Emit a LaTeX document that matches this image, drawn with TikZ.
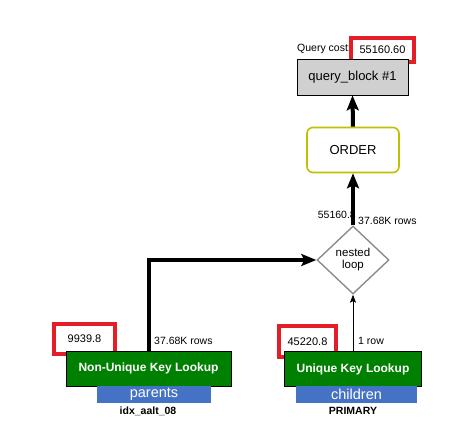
\documentclass[tikz,border=0pt]{standalone}
\usepackage{fontspec}
\setmainfont{Liberation Sans}
\definecolor{plangreen}{HTML}{008000}
\definecolor{planblue}{HTML}{4472C4}
\definecolor{costred}{HTML}{E41E26}
\definecolor{blockgray}{HTML}{D0D0D0}
\definecolor{orderolive}{HTML}{C0C000}
\definecolor{loopgray}{HTML}{8C8C8C}
\usetikzlibrary{arrows.meta,positioning,shapes.geometric}
\tikzset{
    costbox/.style={
        draw=costred,
        line width=3.5pt,
        inner sep=0pt,
        minimum height=26pt,
        font=\fontsize{11}{13}\selectfont
    },
    queryblock/.style={
        draw=black,
        fill=blockgray,
        line width=0.8pt,
        minimum width=111pt,
        minimum height=36pt,
        inner sep=0pt,
        font=\fontsize{13}{15}\selectfont
    },
    orderbox/.style={
        draw=orderolive,
        fill=white,
        rounded corners=6pt,
        line width=1.6pt,
        minimum width=92pt,
        minimum height=45pt,
        inner sep=0pt,
        font=\fontsize{13}{15}\selectfont
    },
    loopdiamond/.style={
        diamond,
        draw=loopgray,
        fill=white,
        line width=1.4pt,
        minimum width=72pt,
        minimum height=68pt,
        inner sep=0pt,
        align=center,
        font=\fontsize{11.5}{12}\selectfont
    },
    lookupbox/.style={
        draw=black,
        fill=plangreen,
        text=white,
        line width=0.8pt,
        minimum height=35pt,
        inner sep=0pt,
        font=\bfseries\fontsize{12}{14}\selectfont
    },
    tablebox/.style={
        fill=planblue,
        text=white,
        minimum height=17pt,
        inner sep=0pt,
        font=\fontsize{14.5}{16}\selectfont
    },
    indexlabel/.style={
        inner sep=0pt,
        font=\bfseries\fontsize{10.5}{12}\selectfont
    },
    rowlabel/.style={
        inner sep=0pt,
        font=\fontsize{10.5}{12}\selectfont
    },
    planarrow/.style={
        -{Stealth[length=15pt,width=12pt,inset=3pt]},
        draw=black,
        line width=4pt
    },
    thinarrow/.style={
        -{Stealth[length=8pt,width=6pt,inset=1.5pt]},
        draw=black,
        line width=1pt
    }
}
\begin{document}
\begin{tikzpicture}[x=1pt,y=-1pt]
    \useasboundingbox (0,0) rectangle (451,430);
    \fill[white] (0,0) rectangle (451,430);

    \node[rowlabel, anchor=west] (costtext) at (297,49) {Query cost:};
    \node[costbox, minimum width=63pt, minimum height=24pt] (querycost) at (382.5,50) {55160.60};
    \node[queryblock] (queryblock) at (352.5,77) {query\_block \#1};
    \node[orderbox] (order) at (353,150) {ORDER};
    \node[loopdiamond] (nested) at (353,260) {nested\\loop};

    \node[costbox, minimum width=61pt, minimum height=30pt] (parentscost) at (84.5,339) {9939.8};
    \node[costbox, minimum width=57pt, minimum height=31pt] (childrencost) at (307.5,341.5) {45220.8};
    \node[lookupbox, minimum width=165pt] (parentslookup) at (148.5,368.5) {Non-Unique Key Lookup};
    \node[lookupbox, minimum width=137pt] (childrenlookup) at (353,369) {Unique Key Lookup};
    \node[tablebox, minimum width=114pt] (parentstable) at (154,394.5) {parents};
    \node[tablebox, minimum width=121pt] (childrentable) at (356.5,394.5) {children};
    \node[indexlabel] (parentsindex) at (148,411) {idx\_aalt\_08};
    \node[indexlabel] (childrenindex) at (353,411) {PRIMARY};

    \node[rowlabel, anchor=west] (parentsrows) at (154,341) {37.68K rows};
    \node[rowlabel, anchor=west] (childrenrows) at (358,341) {1 row};
    \node[rowlabel, anchor=west] (looprows) at (358,221) {37.68K rows};
    \node[rowlabel, anchor=east] (loopcost) at (356,215) {55160.8};

    \draw[planarrow] (nested.north) -- (order.south);
    \draw[planarrow] (order.north) -- (queryblock.south);
    \draw[planarrow] (parentslookup.north) |- (nested.west);
    \draw[thinarrow] (childrenlookup.north) -- (nested.south);
\end{tikzpicture}
\end{document}
